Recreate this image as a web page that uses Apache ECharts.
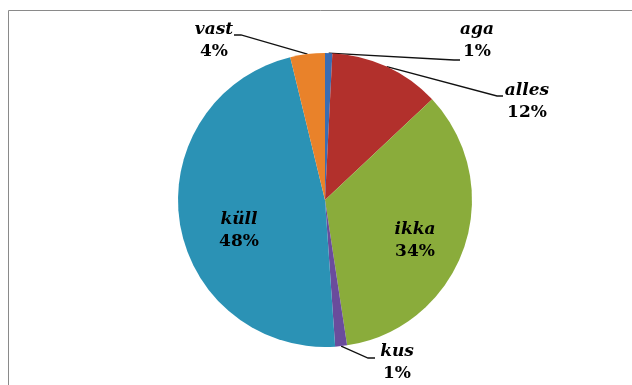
<!DOCTYPE html>
<html>
<head>
<meta charset="utf-8">
<script src="https://cdn.jsdelivr.net/npm/echarts@6/dist/echarts.min.js"></script>
<style>
  html, body { margin: 0; padding: 0; background: #fff; }
  #main { width: 632px; height: 385px; }
</style>
</head>
<body>
<div id="main"></div>
<script>
// slice names, clockwise from the top
var names = ['aga', 'alles', 'ikka', 'kus', 'küll', 'vast'];
// slice sizes
var values = [0.8, 12.2, 34.6, 1.3, 47.3, 3.8];
// printed percentages
var pctLabels = ['1%', '12%', '34%', '1%', '48%', '4%'];
var colors = ['#3a6db4', '#b2302c', '#8aac3b', '#6a4c9c', '#2b92b5', '#e9822a'];
var insideNames = ['ikka', 'küll'];

var CX = 325, CY = 200, R = 147;

// where each label block sits (centre of the two lines)
var labelPos = {
    'aga': [477, 41],
    'alles': [527, 102],
    'ikka': [415, 241],
    'kus': [397, 363],
    'küll': [239, 231],
    'vast': [214, 41]
};
// where the leader line meets the label: [elbow, end]
var lineEnd = {
    'aga': [[454, 60], [460, 60]],
    'alles': [[497, 96], [503, 96]],
    'kus': [[368, 358], [375, 358]],
    'vast': [[241, 35], [234, 35]]
};

var total = values.reduce(function (a, b) { return a + b; }, 0);
// point on the rim at the middle of a slice
function rimPoint(idx) {
    var before = 0;
    for (var i = 0; i < idx; i++) before += values[i];
    var a = (before + values[idx] / 2) / total * Math.PI * 2;
    return [CX + R * Math.sin(a), CY - R * Math.cos(a)];
}

var chart = echarts.init(document.getElementById('main'));

var seriesData = names.map(function (n, i) {
    var inside = insideNames.indexOf(n) >= 0;
    return {
        name: n,
        value: values[i],
        itemStyle: { color: colors[i] },
        label: { position: inside ? 'inside' : 'outside' },
        labelLine: { show: !inside }
    };
});

var option = {
    animation: false,
    graphic: [{
        type: 'rect',
        shape: { x: 8.5, y: 10.5, width: 700, height: 500 },
        style: { fill: 'none', stroke: '#8a8a8a', lineWidth: 1 },
        z: -1
    }],
    series: [{
        type: 'pie',
        center: [CX, CY],
        radius: R,
        startAngle: 90,
        clockwise: true,
        avoidLabelOverlap: false,
        itemStyle: { borderWidth: 0 },
        label: {
            formatter: function (p) {
                return '{n|' + p.name + '}\n{p|' + pctLabels[p.dataIndex] + '}';
            },
            rich: {
                n: {
                    fontFamily: 'DejaVu Serif',
                    fontStyle: 'italic',
                    fontWeight: 'bold',
                    fontSize: 17,
                    color: '#000',
                    lineHeight: 22,
                    align: 'center'
                },
                p: {
                    fontFamily: 'DejaVu Serif',
                    fontWeight: 'bold',
                    fontSize: 17,
                    color: '#000',
                    lineHeight: 22,
                    align: 'center'
                }
            }
        },
        labelLine: {
            length: 10,
            length2: 10,
            lineStyle: { color: '#111', width: 1.3 }
        },
        labelLayout: function (params) {
            var n = names[params.dataIndex];
            var p = labelPos[n];
            var out = { x: p[0], y: p[1], align: 'center', verticalAlign: 'middle' };
            if (lineEnd[n]) {
                out.labelLinePoints = [rimPoint(params.dataIndex), lineEnd[n][0], lineEnd[n][1]];
            }
            return out;
        },
        data: seriesData
    }]
};

chart.setOption(option);
</script>
</body>
</html>
